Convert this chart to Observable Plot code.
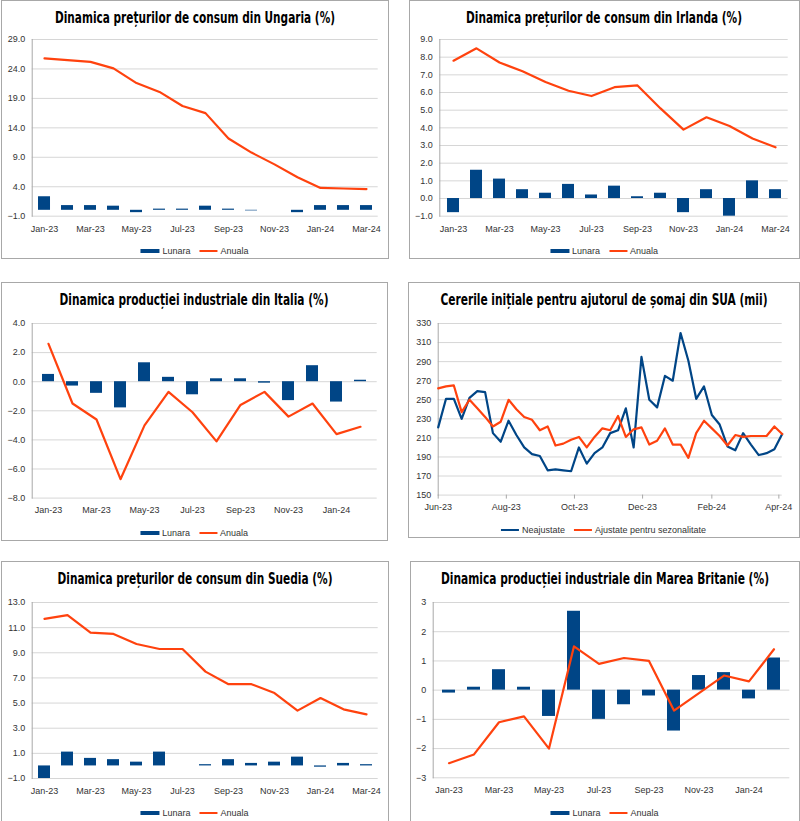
<!DOCTYPE html>
<html><head><meta charset="utf-8">
<script src="https://cdn.jsdelivr.net/npm/d3@7"></script>
<script src="https://cdn.jsdelivr.net/npm/@observablehq/plot@0.6"></script>
<style>
body{margin:0;background:#fff;}
#root{position:relative;width:800px;height:821px;overflow:hidden;font-family:"Liberation Sans",Arial,sans-serif;background:#fff;}
.panel{position:absolute;box-sizing:border-box;border:1px solid #a8a8a8;}
.title{position:absolute;white-space:nowrap;font-family:"Liberation Sans Narrow","DejaVu Sans Condensed",sans-serif;font-weight:bold;font-size:16px;line-height:16px;color:#000;transform-origin:50% 0;}
.legend{position:absolute;display:flex;align-items:center;font-size:9px;color:#333;white-space:nowrap;line-height:12px;height:12px;transform:translateX(-50%);}
.legend .item{display:flex;align-items:center;margin:0 4.5px;}
.legend .sw{display:inline-block;margin-right:3px;}
svg{position:absolute;overflow:visible;}
</style>
</head><body><div id="root"></div>
<script>
// ---------- DATA ----------
const months = ["Jan-23","Feb-23","Mar-23","Apr-23","May-23","Jun-23","Jul-23","Aug-23","Sep-23","Oct-23","Nov-23","Dec-23","Jan-24","Feb-24","Mar-24"];
const monthsShort = ["Jan-23","Feb-23","Mar-23","Apr-23","May-23","Jun-23","Jul-23","Aug-23","Sep-23","Oct-23","Nov-23","Dec-23","Jan-24","Feb-24"];

const huLunara = [2.3,0.8,0.8,0.7,-0.4,0.2,0.2,0.7,0.2,-0.1,0.0,-0.4,0.8,0.8,0.8];
const huAnuala = [25.8,25.5,25.2,24.1,21.6,20.1,17.7,16.5,12.2,9.8,7.8,5.6,3.8,3.7,3.6];

const ieLunara = [-0.8,1.6,1.1,0.5,0.3,0.8,0.2,0.7,0.1,0.3,-0.8,0.5,-1.0,1.0,0.5];
const ieAnuala = [7.8,8.5,7.7,7.2,6.6,6.1,5.8,6.3,6.4,5.1,3.9,4.6,4.1,3.4,2.9];

const itLunara = [0.5,-0.3,-0.8,-1.8,1.3,0.3,-0.9,0.2,0.2,-0.1,-1.3,1.1,-1.4,0.1];
const itAnuala = [2.6,-1.5,-2.6,-6.7,-3.0,-0.7,-2.1,-4.1,-1.6,-0.7,-2.4,-1.5,-3.6,-3.1];

const seLunara = [-1.0,1.1,0.6,0.5,0.3,1.1,0.0,0.1,0.5,0.2,0.3,0.7,-0.1,0.2,0.1];
const seAnuala = [11.7,12.0,10.6,10.5,9.7,9.3,9.3,7.5,6.5,6.5,5.8,4.4,5.4,4.5,4.1];

const ukLunara = [-0.1,0.1,0.7,0.1,-0.9,2.7,-1.0,-0.5,-0.2,-1.4,0.5,0.6,-0.3,1.1];
const ukAnuala = [-2.5,-2.2,-1.1,-0.9,-2.0,1.5,0.9,1.1,1.0,-0.7,-0.1,0.5,0.3,1.4];

const usWeeks = ["2023-06-03","2023-06-10","2023-06-17","2023-06-24","2023-07-01","2023-07-08","2023-07-15","2023-07-22","2023-07-29",
  "2023-08-05","2023-08-12","2023-08-19","2023-08-26","2023-09-02","2023-09-09","2023-09-16","2023-09-23","2023-09-30",
  "2023-10-07","2023-10-14","2023-10-21","2023-10-28","2023-11-04","2023-11-11","2023-11-18","2023-11-25",
  "2023-12-02","2023-12-09","2023-12-16","2023-12-23","2023-12-30","2024-01-06","2024-01-13","2024-01-20","2024-01-27",
  "2024-02-03","2024-02-10","2024-02-17","2024-02-24","2024-03-02","2024-03-09","2024-03-16","2024-03-23","2024-03-30","2024-04-06"];
const usNeajustate = [221,251,251,230,252,259,258,215,206,228,213,200,193,191,176,177,176,175,200,183,194,200,215,218,241,200,295,250,242,275,270,320,291,251,264,234,224,201,197,215,203,192,194,198,214];
const usAjustate = [262,264,265,237,250,241,232,222,227,250,240,232,229,218,222,202,204,208,211,200,211,220,218,233,211,219,221,203,207,220,203,203,189,215,228,220,212,202,213,211,212,212,212,222,214];
const usTickDates = ["2023-06-03","2023-08-03","2023-10-03","2023-12-03","2024-02-03","2024-04-03"];

const ticksHU = [-1,4,9,14,19,24,29];
const ticksIE = [-1,0,1,2,3,4,5,6,7,8,9];
const ticksIT = [-8,-6,-4,-2,0,2,4];
const ticksUS = [150,170,190,210,230,250,270,290,310,330];
const ticksSE = [-1,1,3,5,7,9,11,13];
const ticksUK = [-3,-2,-1,0,1,2,3];

// ---------- LAYOUT ----------
const BLUE = "#004586", ORANGE = "#ff420e", GRID = "#d6d6d6", AXIS = "#a8a8a8";
const root = document.getElementById("root");
const plotStyle = {fontFamily:"'Liberation Sans', Arial, sans-serif", fontSize:"9px", color:"#333", background:"transparent", overflow:"visible"};

function panel(box, title, titleW) {
  const p = document.createElement("div");
  p.className = "panel";
  Object.assign(p.style, {left: box.xL+"px", top: box.yT+"px", width:(box.xR-box.xL+1)+"px", height:(box.yB-box.yT+1)+"px"});
  root.appendChild(p);
  const t = document.createElement("div");
  t.className = "title";
  t.textContent = title;
  root.appendChild(t);
  const w = t.getBoundingClientRect().width;
  const s = titleW / w;
  const cx = (box.xL + box.xR) / 2;
  Object.assign(t.style, {left: cx+"px", top:(box.yT+9.5)+"px", transform:`translateX(-50%) scaleX(${s})`});
}

function legend(box, cy, items) {
  const lg = document.createElement("div");
  lg.className = "legend";
  lg.style.left = ((box.xL + box.xR)/2) + "px";
  lg.style.top = (cy - 6) + "px";
  for (const it of items) {
    const d = document.createElement("div"); d.className = "item";
    const sw = document.createElement("span"); sw.className = "sw";
    if (it.type === "bar") Object.assign(sw.style, {width:"19px", height:"4px", background:it.color});
    else Object.assign(sw.style, {width:"18px", height:"2px", background:it.color});
    const tx = document.createElement("span"); tx.textContent = it.label;
    d.appendChild(sw); d.appendChild(tx); lg.appendChild(d);
  }
  root.appendChild(lg);
}

function place(svg, left, top) {
  svg.style.left = left + "px"; svg.style.top = top + "px";
  root.appendChild(svg);
}

function bandChart(cfg) {
  const {cats, lunara, anuala, yTicks, fmt, box, plot} = cfg;
  const svgLeft = box.xL + 1, svgTop = plot.y0 - 12;
  const width = box.xR - box.xL - 1;
  const height = (plot.y1 - plot.y0) + 38;
  const data = cats.map((c, i) => ({c, l: lunara[i], a: anuala[i]}));
  const chart = Plot.plot({
    width, height,
    marginLeft: plot.x0 - svgLeft, marginRight: svgLeft + width - plot.x1,
    marginTop: 12, marginBottom: 26,
    style: plotStyle,
    x: {type:"band", domain: cats, paddingInner:0.5, paddingOuter:0.25, label:null},
    y: {domain:[yTicks[0], yTicks[yTicks.length-1]], label:null},
    marks: [
      Plot.ruleY(yTicks, {stroke: GRID}),
      Plot.frame({anchor:"left", stroke: AXIS}),
      Plot.barY(data, {x:"c", y:"l", fill: BLUE}),
      Plot.lineY(data, {x:"c", y:"a", stroke: ORANGE, strokeWidth: 2.2}),
      Plot.axisY({ticks: yTicks, tickFormat: fmt, tickSize: 0, tickPadding: 7}),
      Plot.axisX({ticks: cats.filter((d, i) => i % 2 === 0), tickSize: 0, tickPadding: 9})
    ]
  });
  place(chart, svgLeft, svgTop);
}

const f1 = d3.format(".1f");
const lunAn = [{type:"bar", color:BLUE, label:"Lunara"}, {type:"line", color:ORANGE, label:"Anuala"}];

// Top-left: Ungaria
const bTL = {xL:1, xR:388, yT:0, yB:258};
panel(bTL, "Dinamica prețurilor de consum din Ungaria (%)", 280);
bandChart({cats: months, lunara: huLunara, anuala: huAnuala, yTicks: ticksHU, fmt: f1, box: bTL, plot:{x0:31.7, x1:377.7, y0:39.3, y1:216}});
legend(bTL, 250.7, lunAn);

// Top-right: Irlanda
const bTR = {xL:409, xR:799, yT:0, yB:258};
panel(bTR, "Dinamica prețurilor de consum din Irlanda (%)", 276);
bandChart({cats: months, lunara: ieLunara, anuala: ieAnuala, yTicks: ticksIE, fmt: f1, box: bTR, plot:{x0:439.3, x1:787.7, y0:39.3, y1:216}});
legend(bTR, 250.7, lunAn);

// Middle-left: Italia
const bML = {xL:1, xR:387, yT:282, yB:540};
panel(bML, "Dinamica producției industriale din Italia (%)", 269);
bandChart({cats: monthsShort, lunara: itLunara, anuala: itAnuala, yTicks: ticksIT, fmt: f1, box: bML, plot:{x0:31.7, x1:376.7, y0:322.7, y1:497.3}});
legend(bML, 533.3, lunAn);

// Middle-right: SUA
const bMR = {xL:408, xR:799, yT:282, yB:537};
panel(bMR, "Cererile inițiale pentru ajutorul de șomaj din SUA (mii)", 327);
{
  const plot = {x0:437.7, x1:781.7, y0:322.7, y1:494.3};
  const svgLeft = bMR.xL + 1, svgTop = plot.y0 - 12;
  const width = bMR.xR - bMR.xL - 1;
  const height = (plot.y1 - plot.y0) + 38;
  const data = usWeeks.map((d, i) => ({d: new Date(d), n: usNeajustate[i], a: usAjustate[i]}));
  const chart = Plot.plot({
    width, height,
    marginLeft: plot.x0 - svgLeft, marginRight: svgLeft + width - plot.x1,
    marginTop: 12, marginBottom: 26,
    style: plotStyle,
    x: {type:"utc", domain:[new Date(usWeeks[0]), new Date(usWeeks[usWeeks.length-1])], label:null},
    y: {domain:[150, 330], label:null},
    marks: [
      Plot.ruleY(ticksUS, {stroke: GRID}),
      Plot.frame({anchor:"left", stroke: AXIS}),
      Plot.lineY(data, {x:"d", y:"n", stroke: BLUE, strokeWidth: 2.2}),
      Plot.lineY(data, {x:"d", y:"a", stroke: ORANGE, strokeWidth: 2.2}),
      Plot.axisY({ticks: ticksUS, tickFormat: d3.format("d"), tickSize: 0, tickPadding: 7}),
      Plot.axisX({ticks: usTickDates.map(d => new Date(d)), tickFormat: d3.utcFormat("%b-%y"), tickSize: 4, tickPadding: 5, stroke: AXIS})
    ]
  });
  place(chart, svgLeft, svgTop);
}
legend(bMR, 530, [{type:"line", color:BLUE, label:"Neajustate"}, {type:"line", color:ORANGE, label:"Ajustate pentru sezonalitate"}]);

// Bottom-left: Suedia
const bBL = {xL:1, xR:388, yT:561, yB:822};
panel(bBL, "Dinamica prețurilor de consum din Suedia (%)", 275);
bandChart({cats: months, lunara: seLunara, anuala: seAnuala, yTicks: ticksSE, fmt: f1, box: bBL, plot:{x0:31.7, x1:377.7, y0:601.7, y1:777.7}});
legend(bBL, 812.7, lunAn);

// Bottom-right: Marea Britanie
const bBR = {xL:410, xR:799, yT:561, yB:822};
panel(bBR, "Dinamica producției industriale din Marea Britanie (%)", 328);
bandChart({cats: monthsShort, lunara: ukLunara, anuala: ukAnuala, yTicks: ticksUK, fmt: d3.format("d"), box: bBR, plot:{x0:432.7, x1:789.3, y0:601.7, y1:777}});
legend(bBR, 812.7, lunAn);
</script>
</body></html>
